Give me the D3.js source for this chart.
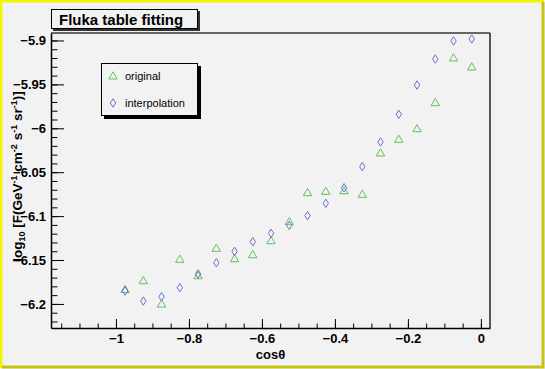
<!DOCTYPE html>
<html>
<head>
<meta charset="utf-8">
<script src="https://cdn.jsdelivr.net/npm/d3@7"></script>
<style>
  body { margin: 0; background: #f2f2f2; }
  text { font-family: "Liberation Sans", Arial, sans-serif; }
</style>
</head>
<body>
<div id="root"></div>
<script>
// cos(theta) bin centres
const cosTheta = [-0.975, -0.925, -0.875, -0.825, -0.775, -0.725, -0.675, -0.625, -0.575, -0.525,
  -0.475, -0.425, -0.375, -0.325, -0.275, -0.225, -0.175, -0.125, -0.075, -0.025];

const original = [-6.1836, -6.1736, -6.2001, -6.1492, -6.1679, -6.1367, -6.1485, -6.144, -6.128, -6.1064,
  -6.0733, -6.0718, -6.0711, -6.0752, -6.0281, -6.0125, -6.0005, -5.9708, -5.9199, -5.9302];

const interpolation = [-6.1853, -6.1967, -6.1918, -6.1815, -6.1659, -6.1531, -6.1401, -6.1292, -6.1196, -6.1105,
  -6.0995, -6.0854, -6.0677, -6.0437, -6.0156, -5.9841, -5.9507, -5.9211, -5.9006, -5.8983];

const xTicks = [-1, -0.8, -0.6, -0.4, -0.2, 0];
const yTicks = [-5.9, -5.95, -6, -6.05, -6.1, -6.15, -6.2];

const W = 545, H = 369;
const frame = { left: 51, right: 490, top: 33, bottom: 328 };

const svg = d3.select("#root").append("svg")
  .attr("width", W).attr("height", H);

svg.append("rect").attr("width", W).attr("height", H).attr("fill", "#f2f2f2");

// canvas bevel border
svg.append("path").attr("d", `M1,${H - 1}V1H${W - 1}`)
  .attr("fill", "none").attr("stroke", "#f4f400").attr("stroke-width", 3);
svg.append("path").attr("d", `M2,${H - 2}H${W - 2}V2`)
  .attr("fill", "none").attr("stroke", "#c4c418").attr("stroke-width", 3);

const x = d3.scaleLinear().domain([-1.178, 0.025]).range([frame.left, frame.right]);
const y = d3.scaleLinear().domain([-6.2274, -5.8915]).range([frame.bottom, frame.top]);

// frame top / right
svg.append("line").attr("x1", frame.left).attr("x2", frame.right)
  .attr("y1", frame.top).attr("y2", frame.top)
  .attr("stroke", "#666").attr("stroke-width", 2);
svg.append("line").attr("x1", frame.right).attr("x2", frame.right)
  .attr("y1", frame.top).attr("y2", frame.bottom)
  .attr("stroke", "#222").attr("stroke-width", 1.5);

// x axis
const xMinor = d3.range(-1.15, 0.001, 0.05);
svg.append("g").attr("transform", `translate(0,${frame.bottom})`)
  .call(d3.axisBottom(x).tickValues(xMinor).tickSize(-4.5).tickFormat(""))
  .call(g => g.select(".domain").remove());
const xAxis = svg.append("g").attr("transform", `translate(0,${frame.bottom})`)
  .call(d3.axisBottom(x).tickValues(xTicks).tickSize(-9).tickSizeOuter(0).tickPadding(6)
    .tickFormat(d => d3.format("")(d)));
xAxis.select(".domain").attr("stroke-width", 1.5);
xAxis.selectAll("text").attr("font-size", 13).attr("font-weight", "bold").attr("fill", "#000")
  .attr("dy", "0.8em").attr("y", 4.5);

// y axis
const yMinor = d3.range(-6.22, -5.8949, 0.01);
svg.append("g").attr("transform", `translate(${frame.left},0)`)
  .call(d3.axisLeft(y).tickValues(yMinor).tickSize(-6.5).tickFormat(""))
  .call(g => g.select(".domain").remove());
const yAxis = svg.append("g").attr("transform", `translate(${frame.left},0)`)
  .call(d3.axisLeft(y).tickValues(yTicks).tickSize(-13).tickSizeOuter(0).tickPadding(5)
    .tickFormat(d => d3.format("")(d)));
yAxis.select(".domain").attr("stroke-width", 1.5);
yAxis.selectAll("text").attr("font-size", 13).attr("font-weight", "bold").attr("fill", "#000");

// axis titles
svg.append("text").attr("x", (frame.left + frame.right) / 2).attr("y", 358.5)
  .attr("text-anchor", "middle").attr("font-size", 13).attr("font-weight", "bold")
  .text("cosθ");

const yt = svg.append("text")
  .attr("transform", `translate(22,${(frame.top + frame.bottom) / 2 - 4}) rotate(-90)`)
  .attr("text-anchor", "middle").attr("font-size", 13.5).attr("font-weight", "bold");
const parts = [["log", 0], ["10", -1], [" [F(GeV", 0], ["-1", 1], [" cm", 0], ["-2", 1],
  [" s", 0], ["-1", 1], [" sr", 0], ["-1", 1], [")]", 0]];
parts.forEach(([t, s]) => {
  const ts = yt.append("tspan").text(t);
  if (s !== 0) ts.attr("font-size", 9).attr("baseline-shift", s > 0 ? "60%" : "-35%");
});

// markers
const triangle = "M0,-4.2L4.2,3L-4.2,3Z";
const diamond = "M0,-4.2L2.7,0L0,4.2L-2.7,0Z";

svg.append("g").selectAll("path").data(d3.zip(cosTheta, original)).join("path")
  .attr("d", triangle).attr("transform", d => `translate(${x(d[0])},${y(d[1])})`)
  .attr("fill", "none").attr("stroke", "#62c062").attr("stroke-width", 1);

svg.append("g").selectAll("path").data(d3.zip(cosTheta, interpolation)).join("path")
  .attr("d", diamond).attr("transform", d => `translate(${x(d[0])},${y(d[1])})`)
  .attr("fill", "none").attr("stroke", "#6f6fd0").attr("stroke-width", 1);

// title box
svg.append("rect").attr("x", 53).attr("y", 11).attr("width", 147).attr("height", 20).attr("fill", "#333");
svg.append("rect").attr("x", 51.5).attr("y", 9.5).attr("width", 146).attr("height", 19)
  .attr("fill", "#f2f2f2").attr("stroke", "#000");
svg.append("text").attr("x", 59).attr("y", 24.5).attr("font-size", 15).attr("font-weight", "bold")
  .text("Fluka table fitting");

// legend
svg.append("rect").attr("x", 104).attr("y", 66).attr("width", 97).attr("height", 53).attr("fill", "#000");
svg.append("rect").attr("x", 101.5).attr("y", 63.5).attr("width", 96).attr("height", 52)
  .attr("fill", "#f2f2f2").attr("stroke", "#000");
const legend = [["original", triangle, "#62c062"], ["interpolation", diamond, "#6f6fd0"]];
legend.forEach(([label, sym, col], i) => {
  const ly = 76 + i * 27;
  svg.append("path").attr("d", sym).attr("transform", `translate(113,${ly})`)
    .attr("fill", "none").attr("stroke", col);
  svg.append("text").attr("x", 125).attr("y", ly + 4).attr("font-size", 11).text(label);
});
</script>
</body>
</html>
